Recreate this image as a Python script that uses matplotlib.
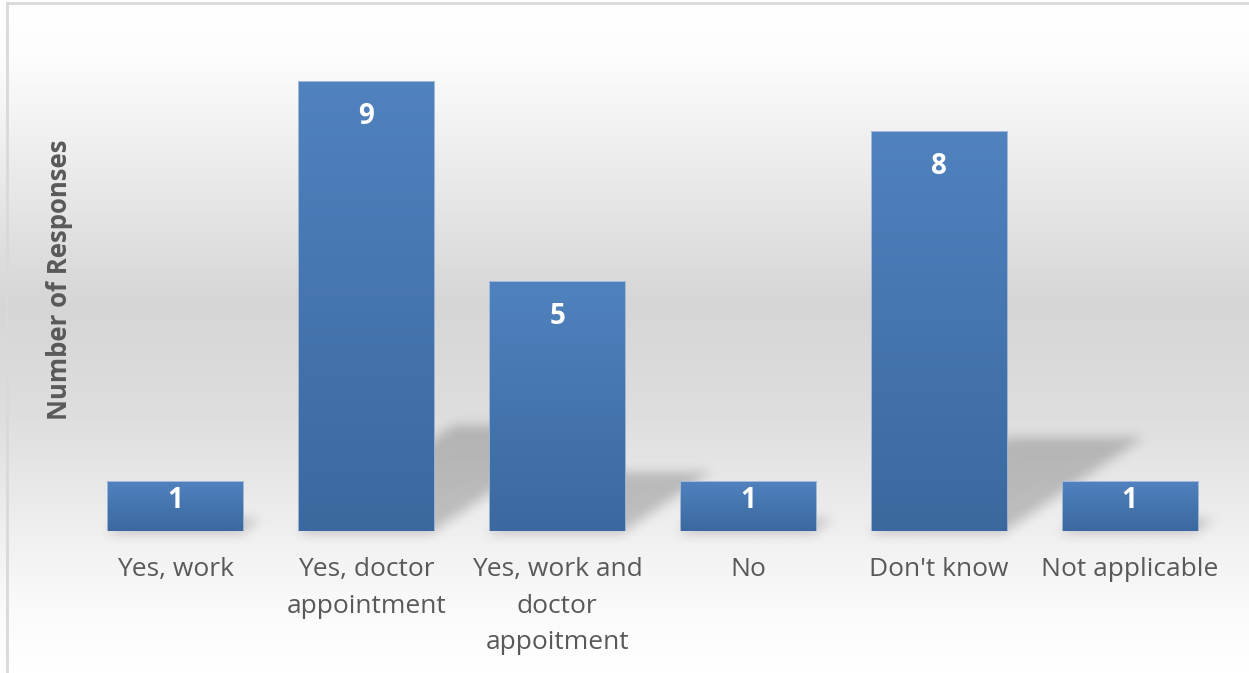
import numpy as np
import matplotlib
matplotlib.use("Agg")
import matplotlib.pyplot as plt
from matplotlib.colors import LinearSegmentedColormap
from matplotlib.lines import Line2D

# Survey answers and counts
categories = ["Yes, work", "Yes, doctor\nappointment", "Yes, work and\ndoctor\nappoitment",
              "No", "Don't know", "Not applicable"]
responses = [1, 9, 5, 1, 8, 1]

plt.rcParams["font.family"] = ["Open Sans", "DejaVu Sans"]

W, H = 1249, 673
fig = plt.figure(figsize=(W / 100, H / 100), dpi=100)

# Chart-area background: white -> light gray -> white
bg = fig.add_axes([0, 0, 1, 1], zorder=0)
bg.axis("off")
bg_cmap = LinearSegmentedColormap.from_list(
    "bg", [(0.0, "#ffffff"), (0.08, "#fdfdfd"), (0.45, "#d6d6d6"),
           (0.62, "#dedede"), (0.9, "#fafafa"), (1.0, "#ffffff")])
grad = np.linspace(0, 1, 400).reshape(-1, 1)
bg.imshow(grad, cmap=bg_cmap, aspect="auto", extent=[0, 1, 0, 1], origin="upper")
bg.set_xlim(0, 1)
bg.set_ylim(0, 1)

# Chart border (left and top edges)
fig.add_artist(Line2D([7 / W, 7 / W], [0, 1 - 3 / H], transform=fig.transFigure,
                      color="#d9d9d9", lw=2))
fig.add_artist(Line2D([7 / W, 1], [1 - 3 / H, 1 - 3 / H], transform=fig.transFigure,
                      color="#d9d9d9", lw=2))

ax = fig.add_axes([80 / W, (H - 531) / H, 1145 / W, 500 / H], zorder=1)
ax.patch.set_alpha(0)
x = np.arange(len(categories))
bar_w = 0.713
ax.set_xlim(-0.5, len(categories) - 0.5)
ax.set_ylim(0, 10)

# Perspective shadows behind the bars, rasterised and softened
sx0, sx1, sy0, sy1 = -0.5, len(categories) - 0.5, -0.5, 10
nx, ny = 1145, int(50 * (sy1 - sy0))
gx = np.linspace(sx0, sx1, nx)
gy = np.linspace(sy1, sy0, ny)
GX, GY = np.meshgrid(gx, gy)
mask = np.zeros((ny, nx))
squash, shear = 0.234, 0.0902
for xi, v in zip(x, responses):
    sh = squash * v
    t = np.clip(GY / sh, 0, 1)
    inside = (GY >= -0.05) & (GY <= sh) & (GX >= xi - bar_w / 2 + t * shear * v) \
        & (GX <= xi + bar_w / 2 + t * shear * v)
    mask[inside] = 1.0


def box_blur(a, r, axis):
    k = np.ones(2 * r + 1) / (2 * r + 1)
    return np.apply_along_axis(lambda m: np.convolve(m, k, mode="same"), axis, a)


for _ in range(3):
    mask = box_blur(mask, 5, 0)
    mask = box_blur(mask, 5, 1)
shadow = np.zeros((ny, nx, 4))
shadow[..., 3] = mask * 0.2
ax.imshow(shadow, extent=[sx0, sx1, sy0, sy1], aspect="auto", zorder=1,
          clip_on=False, interpolation="bilinear")

# Bars with vertical gradient fill
bar_cmap = LinearSegmentedColormap.from_list("bar", ["#3b689f", "#5082be"])
bars = ax.bar(x, responses, width=bar_w, color="none", edgecolor="#c5d3e6",
              linewidth=0.5, zorder=3)
for b in bars:
    x0 = b.get_x()
    ax.imshow(np.linspace(0, 1, 100).reshape(-1, 1), cmap=bar_cmap, origin="lower",
              aspect="auto", extent=[x0, x0 + b.get_width(), 0, b.get_height()],
              zorder=2)
ax.set_xlim(-0.5, len(categories) - 0.5)
ax.set_ylim(0, 10)

# Value labels inside the top of each bar
for xi, v in zip(x, responses):
    ax.text(xi, v - min(0.72, 0.4 * v), str(v), ha="center", va="center",
            color="white", fontsize=20, fontweight="bold", zorder=4)

ax.set_xticks(x)
ax.set_xticklabels(categories, fontsize=19, color="#595959", linespacing=1.6)
ax.tick_params(axis="x", length=0, pad=19)
ax.set_yticks([])
for s in ax.spines.values():
    s.set_visible(False)

fig.text(60 / W, (H - 280) / H, "Number of Responses", rotation=90, ha="center",
         va="center", fontsize=18.5, fontweight="bold", color="#595959")

fig.savefig("out.png", dpi=100)
